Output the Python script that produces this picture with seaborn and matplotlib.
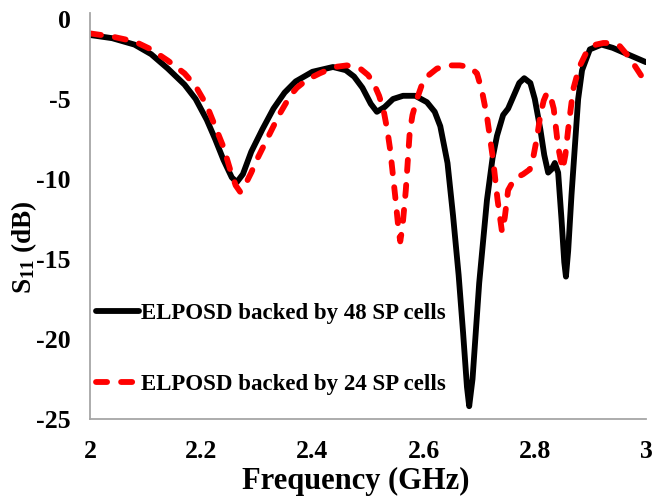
import matplotlib
matplotlib.use("Agg")
import matplotlib.pyplot as plt
import seaborn as sns
import pandas as pd

# S11 of the ELPOSD backed by 48 SP cells
freq_48 = [2.00, 2.04, 2.08, 2.11, 2.14, 2.17, 2.19, 2.21, 2.225, 2.24, 2.255, 2.264,
           2.275, 2.29, 2.31, 2.33, 2.35, 2.37, 2.40, 2.437, 2.46, 2.475, 2.49, 2.505,
           2.516, 2.53, 2.545, 2.563, 2.585, 2.606, 2.62, 2.63, 2.643, 2.653, 2.663,
           2.671, 2.678, 2.682, 2.688, 2.695, 2.70, 2.714, 2.724, 2.732, 2.743, 2.752,
           2.762, 2.772, 2.781, 2.792, 2.80, 2.81, 2.817, 2.824, 2.83, 2.836, 2.842,
           2.848, 2.853, 2.856, 2.86, 2.866, 2.872, 2.878, 2.885, 2.899, 2.92, 2.94,
           2.96, 2.98, 3.00]
s11_48 = [-1.0, -1.2, -1.6, -2.2, -3.1, -4.1, -5.0, -6.3, -7.5, -8.8, -9.9, -10.2,
          -9.7, -8.3, -6.9, -5.6, -4.6, -3.9, -3.3, -3.0, -3.2, -3.6, -4.3, -5.3,
          -5.8, -5.5, -5.0, -4.8, -4.8, -5.2, -5.8, -6.7, -9.0, -12.3, -16.0,
          -19.6, -23.0, -24.2, -22.5, -19.0, -16.5, -11.3, -8.7, -7.3, -6.0, -5.6,
          -4.8, -4.0, -3.7, -4.0, -5.0, -6.9, -8.5, -9.6, -9.4, -9.0, -9.6,
          -12.5, -15.2, -16.1, -14.5, -11.0, -8.0, -5.0, -3.2, -1.9, -1.6, -1.8,
          -2.1, -2.4, -2.7]

# S11 of the ELPOSD backed by 24 SP cells
freq_24 = [2.00, 2.04, 2.08, 2.11, 2.14, 2.17, 2.19, 2.21, 2.225, 2.24, 2.252, 2.262,
           2.27, 2.28, 2.29, 2.30, 2.32, 2.34, 2.36, 2.372, 2.39, 2.413, 2.44, 2.462,
           2.486, 2.50, 2.51, 2.52, 2.528, 2.535, 2.54, 2.549, 2.555, 2.558, 2.562,
           2.568, 2.575, 2.58, 2.588, 2.596, 2.606, 2.624, 2.645, 2.665, 2.683, 2.696,
           2.705, 2.714, 2.725, 2.733, 2.741, 2.746, 2.752, 2.76, 2.768, 2.779, 2.791,
           2.798, 2.804, 2.81, 2.816, 2.822, 2.828, 2.834, 2.842, 2.85, 2.855, 2.86,
           2.869, 2.88, 2.894, 2.91, 2.923, 2.94, 2.953, 2.97, 2.985, 3.00]
s11_24 = [-0.9, -1.1, -1.4, -1.9, -2.6, -3.4, -4.2, -5.4, -6.7, -8.0, -9.4, -10.4,
          -10.8, -10.3, -9.6, -8.8, -7.4, -6.0, -4.8, -4.3, -3.8, -3.4, -3.0, -2.9,
          -3.1, -3.5, -4.0, -4.8, -5.7, -7.0, -8.2, -11.1, -13.2, -13.9, -13.0,
          -10.7, -7.1, -6.0, -5.0, -4.2, -3.6, -3.1, -2.9, -2.9, -3.0, -3.4,
          -4.5, -6.1, -8.8, -11.3, -13.3, -12.4, -10.7, -10.2, -9.9, -9.7, -9.4,
          -8.5, -7.4, -6.0, -5.1, -4.6, -4.8, -5.6, -8.0, -9.4, -8.5, -6.9,
          -4.4, -3.0, -2.0, -1.6, -1.5, -1.5, -1.7, -2.4, -3.2, -4.0]

label_48 = "ELPOSD backed by 48 SP cells"
label_24 = "ELPOSD backed by 24 SP cells"

x_ticks = [2, 2.2, 2.4, 2.6, 2.8, 3]
x_tick_labels = ["2", "2.2", "2.4", "2.6", "2.8", "3"]
y_ticks = [0, -5, -10, -15, -20, -25]
y_tick_labels = ["0", "-5", "-10", "-15", "-20", "-25"]

sns.set_theme(style="white")
plt.rcParams["font.family"] = ["Liberation Serif", "DejaVu Serif"]
plt.rcParams["font.weight"] = "bold"
plt.rcParams["text.color"] = "black"
plt.rcParams["axes.labelcolor"] = "black"
plt.rcParams["mathtext.fontset"] = "custom"
plt.rcParams["mathtext.rm"] = "Liberation Serif:bold"
plt.rcParams["mathtext.bf"] = "Liberation Serif:bold"
plt.rcParams["mathtext.it"] = "Liberation Serif:bold"

fig = plt.figure(figsize=(6.52, 4.98), dpi=100)
ax_h = (419 - 13.4) / 498
ax = fig.add_axes([90 / 652, 1 - 419 / 498, (646 - 90) / 652, ax_h])

df48 = pd.DataFrame({"f": freq_48, "s": s11_48})
df24 = pd.DataFrame({"f": freq_24, "s": s11_24})

lw = 4.2
sns.lineplot(data=df48, x="f", y="s", ax=ax, color="black", linewidth=lw,
             label=label_48, sort=False, solid_capstyle="round",
             solid_joinstyle="round")
sns.lineplot(data=df24, x="f", y="s", ax=ax, color="#ff0000", linewidth=lw,
             label=label_24, sort=False, dash_capstyle="round",
             dashes=False, linestyle=(0, (1.9, 2.4)))

ax.set_xlim(2, 3)
ax.set_ylim(-25, 0.35)
ax.set_xticks(x_ticks)
ax.set_xticklabels(x_tick_labels)
ax.set_yticks(y_ticks)
ax.set_yticklabels(y_tick_labels)

for side in ("top", "right"):
    ax.spines[side].set_visible(False)
for side in ("left", "bottom"):
    ax.spines[side].set_color("#a6a6a6")
    ax.spines[side].set_linewidth(1.3)

ax.tick_params(axis="x", direction="in", length=6, width=1.1, color="#a6a6a6",
               labelsize=18.5, pad=15, labelcolor="black")
ax.tick_params(axis="y", direction="out", length=7, width=1.1, color="#a6a6a6",
               labelsize=18.5, pad=7, labelcolor="black")
for lbl in ax.get_xticklabels() + ax.get_yticklabels():
    lbl.set_fontweight("bold")

ax.set_xlabel("Frequency (GHz)", fontsize=22, fontweight="bold", color="black")
ax.set_ylabel(r"$\mathbf{S}_{\mathbf{11}}$ (dB)", fontsize=19.5, fontweight="bold",
              color="black")
ax.xaxis.set_label_coords(0.478, -0.118)
ax.yaxis.set_label_coords(-0.092, 0.425)

leg = ax.legend(loc="upper left", bbox_to_anchor=(0.01, 0.287), frameon=False,
                fontsize=16.5, handlelength=1.9, handletextpad=0.1,
                labelspacing=2.2, borderaxespad=0, borderpad=0)
for t in leg.get_texts():
    t.set_fontweight("bold")
    t.set_color("black")

fig.savefig("out.png", dpi=100)
